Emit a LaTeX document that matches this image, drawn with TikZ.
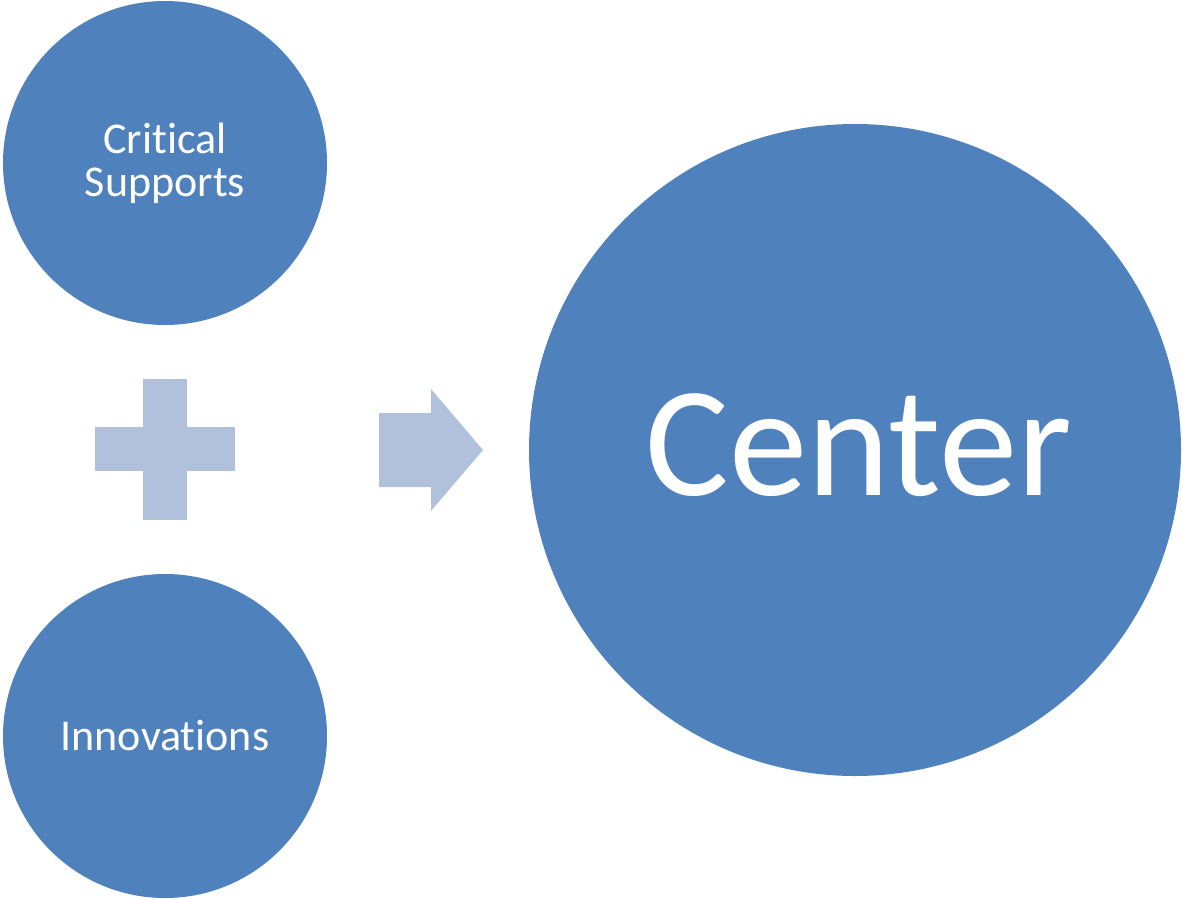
\documentclass[tikz,border=0pt]{standalone}
\usepackage{fontspec}
\setmainfont[Ligatures=NoCommon]{Carlito}
\definecolor{cblue}{HTML}{4F81BD}
\definecolor{clight}{HTML}{B2C1DB}
\begin{document}
\begin{tikzpicture}[x=1pt,y=-1pt,
  bubble/.style={circle,fill=cblue,draw=none,text=white,align=center,inner sep=0pt},
  small/.style={bubble,minimum size=324pt,font=\fontsize{44}{43}\selectfont},
  big/.style={bubble,minimum size=652pt,font=\fontsize{157}{160}\selectfont},
  sym/.style={fill=clight,draw=none}]
\useasboundingbox (0,0) rectangle (1183,899);
\node[small] (cs) at (165,163) {Critical\\Supports};
\node[small] (inn) at (165,736) {Innovations};
\node[big] (ctr) at (855,450) {\hspace*{8pt}\raisebox{10pt}{Center}};
\path[sym] (143,379) rectangle (187,520);
\path[sym] (95,427) rectangle (235,471);
\path[sym] (379,413) -- (431,413) -- (431,389) -- (483,450) -- (431,511) -- (431,487) -- (379,487) -- cycle;
\end{tikzpicture}
\end{document}
